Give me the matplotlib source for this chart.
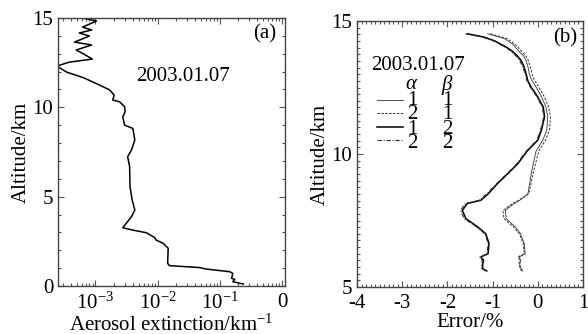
import matplotlib
matplotlib.use("Agg")
import matplotlib.pyplot as plt
from matplotlib.ticker import MultipleLocator, LogLocator, FixedLocator, FixedFormatter, NullFormatter
from matplotlib.lines import Line2D

plt.rcParams['font.family'] = ['Liberation Serif', 'DejaVu Serif']
plt.rcParams['mathtext.fontset'] = 'custom'
plt.rcParams['mathtext.rm'] = 'Liberation Serif'
plt.rcParams['mathtext.it'] = 'Liberation Serif:italic'
plt.rcParams['axes.unicode_minus'] = False

# ---- panel (a): aerosol extinction profile ----
alt_a = [15.0, 14.83, 14.49, 14.33, 14.16, 13.99, 13.65, 13.49, 13.21, 12.93, 12.70, 12.53,
         12.31, 11.98, 11.64, 11.25, 10.97, 10.69, 10.41, 10.31, 10.03, 9.75, 9.47, 9.0,
         8.82, 8.17, 7.61, 7.24, 6.68, 5.56, 4.81, 4.25, 3.88, 3.26, 3.13, 2.98, 2.72,
         2.57, 2.39, 2.11, 1.27, 1.14, 1.03, 0.95, 0.80, 0.71, 0.43, 0.37, 0.24, 0.11]
ext_a = [6.2e-4, 1.04e-3, 6.2e-4, 8.7e-4, 5.5e-4, 8.0e-4, 4.6e-4, 8.7e-4, 4.9e-4, 6.9e-4,
         8.9e-4, 3.8e-4, 2.4e-4, 3.4e-4, 6.6e-4, 1.16e-3, 1.7e-3, 2.0e-3, 1.9e-3, 2.45e-3,
         2.95e-3, 3.0e-3, 2.75e-3, 2.95e-3, 4.0e-3, 4.3e-3, 3.8e-3, 3.3e-3, 3.55e-3, 3.6e-3,
         3.9e-3, 4.3e-3, 3.8e-3, 2.75e-3, 4.0e-3, 6.6e-3, 8.9e-3, 9.5e-3, 1.23e-2, 1.48e-2,
         1.45e-2, 1.55e-2, 4.8e-2, 6.0e-2, 1.45e-1, 1.62e-1, 1.55e-1, 1.74e-1, 1.62e-1, 2.4e-1]
xticks_a = [1e-3, 1e-2, 1e-1, 1.0]
xticklabels_a = ['10$^{-3}$', '10$^{-2}$', '10$^{-1}$', '0']

# ---- panel (b): error profiles ----
alt_b1 = [14.52, 14.34, 14.12, 13.9, 13.7, 13.52, 13.3, 13.02, 12.8, 12.52, 12.2, 11.77,
          11.4, 10.9, 10.52, 10.1, 9.64, 9.3, 8.89, 8.5, 8.26, 8.14, 7.88, 7.57, 7.26, 7.0,
          6.63, 6.25, 6.13, 6.0, 5.85, 5.69, 5.6]
err_11 = [-1.11, -0.74, -0.55, -0.44, -0.32, -0.26, -0.22, -0.19, -0.14, -0.04, 0.07, 0.18,
          0.22, 0.20, 0.11, -0.04, -0.10, -0.14, -0.18, -0.22, -0.40, -0.52, -0.72, -0.70,
          -0.50, -0.38, -0.30, -0.28, -0.41, -0.38, -0.40, -0.37, -0.33]
err_21 = [-1.05, -0.68, -0.50, -0.38, -0.27, -0.21, -0.17, -0.13, -0.08, 0.02, 0.13, 0.24,
          0.28, 0.26, 0.17, 0.02, -0.05, -0.10, -0.15, -0.20, -0.42, -0.56, -0.77, -0.75,
          -0.54, -0.41, -0.32, -0.30, -0.44, -0.40, -0.42, -0.39, -0.35]
alt_b2 = [14.52, 14.4, 14.25, 14.02, 13.9, 13.7, 13.52, 13.3, 13.02, 12.75, 12.52, 12.2,
          11.77, 11.4, 10.9, 10.52, 10.1, 9.64, 9.3, 8.89, 8.5, 8.26, 8.14, 7.88, 7.57,
          7.26, 7.0, 6.63, 6.25, 6.13, 6.0, 5.85, 5.69, 5.6]
err_12 = [-1.56, -1.20, -0.95, -0.70, -0.59, -0.46, -0.37, -0.31, -0.26, -0.22, -0.15,
          -0.02, 0.12, 0.15, 0.08, 0.0, -0.24, -0.44, -0.64, -0.89, -1.10, -1.26, -1.56,
          -1.67, -1.59, -1.33, -1.15, -1.08, -1.10, -1.26, -1.20, -1.22, -1.22, -1.13]
err_22 = [-1.60, -1.24, -0.98, -0.73, -0.62, -0.49, -0.40, -0.34, -0.28, -0.24, -0.17,
          -0.04, 0.10, 0.13, 0.06, -0.02, -0.26, -0.46, -0.66, -0.91, -1.13, -1.30, -1.60,
          -1.71, -1.63, -1.36, -1.17, -1.10, -1.12, -1.28, -1.23, -1.24, -1.24, -1.15]

legend_alpha = ['1', '2', '1', '2']
legend_beta = ['1', '1', '2', '2']
date_label = '2003.01.07'

fig = plt.figure(figsize=(5.88, 3.34), dpi=100)
FS = 15

def style(ax):
    ax.tick_params(which='both', direction='in', top=True, right=True, labelsize=FS,
                   width=0.8, color='#555555')
    ax.tick_params(which='major', length=4)
    ax.tick_params(which='minor', length=2)
    ax.tick_params(axis='x', which='major', pad=5)
    for s in ax.spines.values():
        s.set_linewidth(1.0)
        s.set_color('#444444')

# panel a
ax1 = fig.add_axes([58/588, 1 - 286/334, 227/588, 268/334])
ax1.plot(ext_a, alt_a, color='black', lw=1.1)
ax1.set_xscale('log')
ax1.set_xlim(2.5e-4, 1.12)
ax1.set_ylim(0, 15)
ax1.xaxis.set_major_locator(FixedLocator(xticks_a))
ax1.xaxis.set_major_formatter(FixedFormatter(xticklabels_a))
ax1.xaxis.set_minor_locator(LogLocator(base=10, subs=range(2, 10), numticks=20))
ax1.xaxis.set_minor_formatter(NullFormatter())
ax1.yaxis.set_major_locator(MultipleLocator(5))
ax1.yaxis.set_minor_locator(MultipleLocator(1))
style(ax1)
ax1.set_ylabel('Altitude/km', fontsize=FS, labelpad=1)
ax1.set_xlabel('Aerosol extinction/km$^{-1}$', fontsize=FS, labelpad=0)
ax1.text(0.96, 0.94, '(a)', transform=ax1.transAxes, fontsize=FS, ha='right', va='center')
ax1.text(0.55, 0.78, date_label, transform=ax1.transAxes, fontsize=FS, ha='center', va='center')

# panel b
ax2 = fig.add_axes([357/588, 1 - 287/334, 226/588, 266/334])
ax2.plot(err_11, alt_b1, color='#333333', lw=0.6, ls='-')
ax2.plot(err_21, alt_b1, color='#333333', lw=0.7, ls=(0, (2.5, 1.5)))
ax2.plot(err_12, alt_b2, color='black', lw=1.1, ls='-')
ax2.plot(err_22, alt_b2, color='#333333', lw=0.8, ls=(0, (4, 1.5, 1, 1.5)))
ax2.set_xlim(-4, 1)
ax2.set_ylim(5, 15)
ax2.xaxis.set_major_locator(MultipleLocator(1))
ax2.xaxis.set_minor_locator(MultipleLocator(0.1))
ax2.yaxis.set_major_locator(MultipleLocator(5))
ax2.yaxis.set_minor_locator(MultipleLocator(0.25))
style(ax2)
ax2.set_ylabel('Altitude/km', fontsize=FS, labelpad=1)
ax2.set_xlabel('Error/%', fontsize=FS, labelpad=0)
ax2.text(0.975, 0.935, '(b)', transform=ax2.transAxes, fontsize=FS, ha='right', va='center')

# legend (manual, in axes fraction)
def fx(px):
    return (px - 357) / 226
def fy(py):
    return (287 - py) / 266

ax2.text(fx(371), fy(66), date_label, transform=ax2.transAxes, fontsize=FS, ha='left', va='center')
ax2.text(fx(412), fy(85), r'$\it{\alpha}$', transform=ax2.transAxes, fontsize=FS,
         ha='center', va='center')
ax2.text(fx(447), fy(85), r'$\it{\beta}$', transform=ax2.transAxes, fontsize=FS,
         ha='center', va='center')
row_y = [100, 113, 127, 140]
ax2.text(fx(412), fy(122), '\n'.join(legend_alpha), transform=ax2.transAxes, fontsize=FS,
         ha='center', va='center', linespacing=0.68)
ax2.text(fx(447), fy(122), '\n'.join(legend_beta), transform=ax2.transAxes, fontsize=FS,
         ha='center', va='center', linespacing=0.68)
styles = [dict(color='#333333', lw=0.6, ls='-'),
          dict(color='#333333', lw=0.7, ls=(0, (2.5, 1.5))),
          dict(color='black', lw=1.1, ls='-'),
          dict(color='#333333', lw=0.8, ls=(0, (4, 1.5, 1, 1.5)))]
for yv, st in zip(row_y, styles):
    ax2.add_line(Line2D([fx(377), fx(403)], [fy(yv), fy(yv)], transform=ax2.transAxes, **st))

fig.savefig('out.png', dpi=100)
